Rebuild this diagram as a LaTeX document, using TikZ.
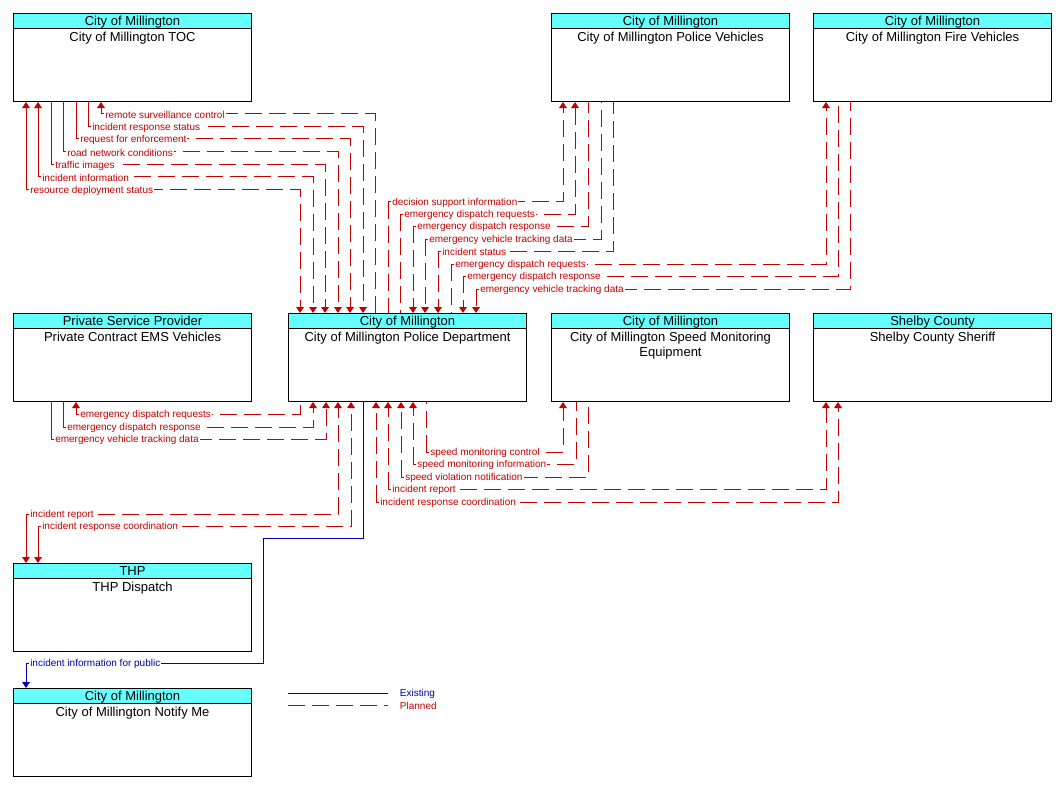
\documentclass[tikz,border=0pt]{standalone}
\usepackage{fontspec}
\setmainfont{Liberation Sans}
\usetikzlibrary{arrows.meta}
\definecolor{pred}{RGB}{196,0,0}
\definecolor{eblue}{RGB}{0,0,176}
\definecolor{hcyan}{RGB}{102,255,255}
\tikzset{
  sysbody/.style={draw=black, line width=0.8pt, minimum width=178.5pt, minimum height=66pt, inner sep=0pt, fill=white},
  syshead/.style={draw=black, line width=0.8pt, fill=hcyan, minimum width=178.5pt, minimum height=11.25pt, inner sep=0pt, text height=7pt, text depth=0pt, font=\fontsize{9.75pt}{11.25pt}\selectfont},
  systext/.style={inner sep=0pt, align=center, font=\fontsize{9.75pt}{11.25pt}\selectfont},
  planned/.style={draw=pred, line width=0.75pt, dash pattern=on 12.75pt off 5.25pt},
  solidseg/.style={draw=pred, line width=0.75pt},
  existing/.style={draw=eblue, line width=0.75pt},
  flowlbl/.style={font=\fontsize{7.5pt}{9pt}\selectfont, text=pred, fill=white, inner xsep=0.75pt, inner ysep=0.5pt, anchor=west, xshift=2.25pt, yshift=-0.4pt},
  leglbl/.style={font=\fontsize{7.5pt}{9pt}\selectfont, inner sep=0.5pt, anchor=west},
  >={Triangle[length=4.5pt,width=5.8pt]},
}
\newcommand\sysbox[5]{%
  \node[sysbody, anchor=north west] (#1) at (#2,#3) {};
  \node[syshead, anchor=north west] (#1h) at (#2,#3) {#4};
  \node[systext, anchor=north] (#1t) at ([yshift=-14.25pt]#1.north) {#5};
}
% #1 label name, #2 options of first leg (corner -> box 1), #3 x1, #4 box 1 anchor,
% #5 y of horizontal, #6 x2, #7 box 2 anchor, #8 tip at box 2, #9 label
\newcommand\pflow[9]{%
  \draw[#2] (#3,#5) -- (#3,0 |- #4);
  \draw[planned,#8] (#3,#5) -- (#6,#5) -- (#6,0 |- #7);
  \node[flowlbl] (#1) at (#3,#5) {#9};
}
\begin{document}
\begin{tikzpicture}[x=0.75pt,y=-0.75pt]
\useasboundingbox (0,0) rectangle (1060,788);
\fill[white] (0,0) rectangle (1060,788);

\sysbox{toc}{13}{13}{City of Millington}{City of Millington TOC}
\sysbox{pv}{551}{13}{City of Millington}{City of Millington Police Vehicles}
\sysbox{fv}{813}{13}{City of Millington}{City of Millington Fire Vehicles}
\sysbox{ems}{13}{313}{Private Service Provider}{Private Contract EMS Vehicles}
\sysbox{pd}{288}{313}{City of Millington}{City of Millington Police Department}
\sysbox{sm}{551}{313}{City of Millington}{City of Millington Speed Monitoring\\Equipment}
\sysbox{sh}{813}{313}{Shelby County}{Shelby County Sheriff}
\sysbox{thp}{13}{563}{THP}{THP Dispatch}
\sysbox{nm}{13}{688}{City of Millington}{City of Millington Notify Me}

% TOC <-> Police Department
\pflow{f1}{solidseg,->}{101}{toc.south}{114}{375}{pd.north}{-}{remote surveillance control}
\pflow{f2}{solidseg}{88}{toc.south}{127}{363}{pd.north}{->}{incident response status}
\pflow{f3}{solidseg}{76}{toc.south}{139}{350}{pd.north}{->}{request for enforcement}
\pflow{f4}{solidseg}{63}{toc.south}{152}{338}{pd.north}{->}{road network conditions}
\pflow{f5}{solidseg}{51}{toc.south}{165}{325}{pd.north}{->}{traffic images}
\pflow{f6}{solidseg,->}{38}{toc.south}{177}{313}{pd.north}{->}{incident information}
\pflow{f7}{solidseg,->}{26}{toc.south}{190}{300}{pd.north}{->}{resource deployment status}

% Police Department <-> Police Vehicles
\pflow{f8}{planned}{388}{pd.north}{202}{563}{pv.south}{->}{decision support information}
\pflow{f9}{planned}{400}{pd.north}{214}{575}{pv.south}{->}{emergency dispatch requests}
\pflow{f10}{planned,->}{413}{pd.north}{226}{588}{pv.south}{-}{emergency dispatch response}
\pflow{f11}{planned,->}{425}{pd.north}{239}{601}{pv.south}{-}{emergency vehicle tracking data}
\pflow{f12}{planned,->}{438}{pd.north}{251}{613}{pv.south}{-}{incident status}

% Police Department <-> Fire Vehicles
\pflow{f13}{planned}{451}{pd.north}{264}{826}{fv.south}{->}{emergency dispatch requests}
\pflow{f14}{planned,->}{463}{pd.north}{276}{838}{fv.south}{-}{emergency dispatch response}
\pflow{f15}{planned,->}{476}{pd.north}{289}{850}{fv.south}{-}{emergency vehicle tracking data}

% EMS <-> Police Department
\pflow{f16}{solidseg,->}{76}{ems.south}{414}{300}{pd.south}{-}{emergency dispatch requests}
\pflow{f17}{solidseg}{63}{ems.south}{427}{313}{pd.south}{->}{emergency dispatch response}
\pflow{f18}{solidseg}{51}{ems.south}{439}{326}{pd.south}{->}{emergency vehicle tracking data}

% THP <-> Police Department
\pflow{f19}{solidseg,->}{26}{thp.north}{514}{338}{pd.south}{->}{incident report}
\pflow{f20}{solidseg,->}{38}{thp.north}{526}{351}{pd.south}{->}{incident response coordination}

% Police Department <-> Speed Monitoring
\pflow{f22}{planned}{426}{pd.south}{452}{563}{sm.south}{->}{speed monitoring control}
\pflow{f23}{planned,->}{413}{pd.south}{464}{576}{sm.south}{-}{speed monitoring information}
\pflow{f24}{planned,->}{401}{pd.south}{477}{588}{sm.south}{-}{speed violation notification}

% Police Department <-> Shelby County Sheriff
\pflow{f25}{planned,->}{388}{pd.south}{489}{826}{sh.south}{->}{incident report}
\pflow{f26}{planned,->}{376}{pd.south}{502}{838}{sh.south}{->}{incident response coordination}

% Existing flow to Notify Me
\draw[existing,->] (363,0 |- pd.south) -- (363,538) -- (263,538) -- (263,663) -- (26,663) -- (26,0 |- nm.north);
\node[flowlbl, text=eblue] (f21) at (26,663) {incident information for public};

% Legend
\coordinate (le1) at (288,693);
\coordinate (le2) at (388,693);
\coordinate (lp1) at (288,705);
\coordinate (lp2) at (388,705);
\draw[existing] (le1) -- (le2);
\draw[planned] (lp1) -- (lp2);
\node[leglbl, text=eblue] (legE) at (399,694) {Existing};
\node[leglbl, text=pred] (legP) at (399,706) {Planned};
\end{tikzpicture}
\end{document}
